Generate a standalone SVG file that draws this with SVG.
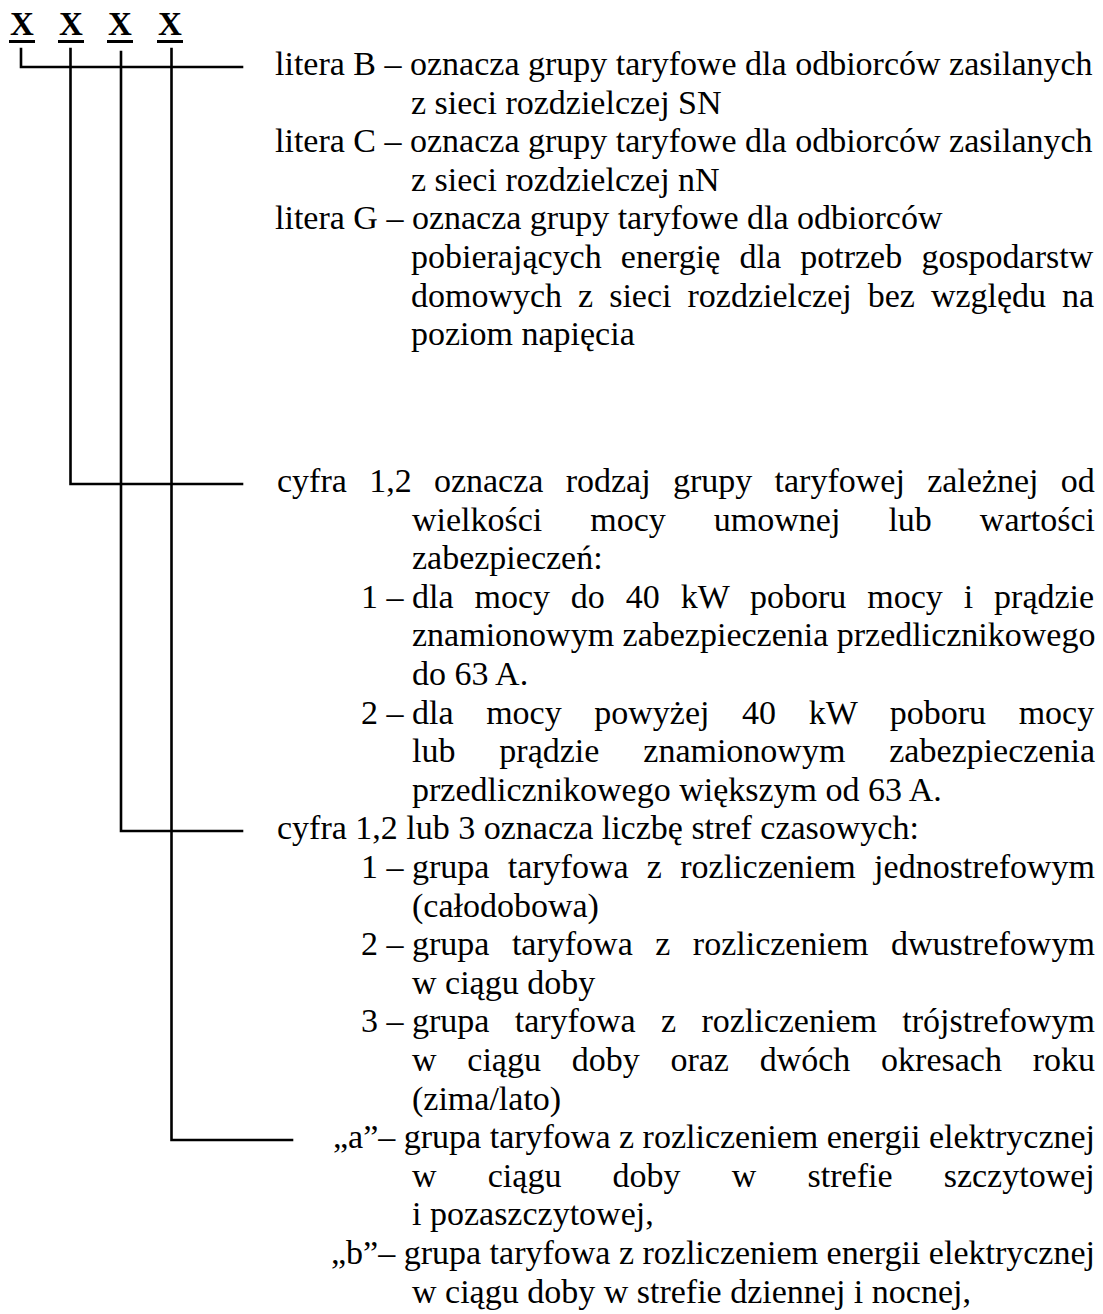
<svg xmlns="http://www.w3.org/2000/svg" width="1103" height="1314" viewBox="0 0 1103 1314">
<style>
text{font-family:"Liberation Serif","Times New Roman",serif;font-size:34px;fill:#000}
.x{font-weight:bold;font-size:33px}
.c{stroke:#000;stroke-width:2.6;fill:none;stroke-linecap:square}
</style>
<rect width="1103" height="1314" fill="#fff"/>
<g id="code">
<text class="x" x="22" y="35" text-anchor="middle">X</text>
<text class="x" x="71" y="35" text-anchor="middle">X</text>
<text class="x" x="120" y="35" text-anchor="middle">X</text>
<text class="x" x="170" y="35" text-anchor="middle">X</text>
<rect x="9" y="40" width="26" height="3"/>
<rect x="58" y="40" width="26" height="3"/>
<rect x="107" y="40" width="26" height="3"/>
<rect x="157" y="40" width="26" height="3"/>
</g>
<g id="connectors">
<path class="c" d="M21,49 V67 H242"/>
<path class="c" d="M70.5,49 V484 H242"/>
<path class="c" d="M121,52 V831 H242"/>
<path class="c" d="M171.5,49 V1140 H292"/>
</g>
<g id="desc-letter">
<text x="275" y="75">litera B – oznacza grupy taryfowe dla odbiorców zasilanych</text>
<text x="411" y="113.6">z sieci rozdzielczej SN</text>
<text x="275" y="152.2">litera C – oznacza grupy taryfowe dla odbiorców zasilanych</text>
<text x="411" y="190.8">z sieci rozdzielczej nN</text>
<text x="275" y="229.4">litera G – oznacza grupy taryfowe dla odbiorców</text>
<text x="411" y="268" style="word-spacing:10.7px">pobierających energię dla potrzeb gospodarstw</text>
<text x="411" y="306.6" style="word-spacing:7.5px">domowych z sieci rozdzielczej bez względu na</text>
<text x="411" y="345.2">poziom napięcia</text>
</g>
<g id="desc-power">
<text x="277" y="492" style="word-spacing:13.8px">cyfra 1,2 oznacza rodzaj grupy taryfowej zależnej od</text>
<text x="412" y="530.6" style="word-spacing:39.5px">wielkości mocy umownej lub wartości</text>
<text x="412" y="569.2">zabezpieczeń:</text>
<text x="361" y="607.8">1 –</text>
<text x="412" y="607.8" style="word-spacing:12.4px">dla mocy do 40 kW poboru mocy i prądzie</text>
<text x="412" y="646.4">znamionowym zabezpieczenia przedlicznikowego</text>
<text x="412" y="685">do 63 A.</text>
<text x="361" y="723.6">2 –</text>
<text x="412" y="723.6" style="word-spacing:24.1px">dla mocy powyżej 40 kW poboru mocy</text>
<text x="412" y="762.2" style="word-spacing:35.4px">lub prądzie znamionowym zabezpieczenia</text>
<text x="412" y="800.8">przedlicznikowego większym od 63 A.</text>
</g>
<g id="desc-zones">
<text x="277" y="839.4">cyfra 1,2 lub 3 oznacza liczbę stref czasowych:</text>
<text x="361" y="878">1 –</text>
<text x="412" y="878" style="word-spacing:9.8px">grupa taryfowa z rozliczeniem jednostrefowym</text>
<text x="412" y="916.6">(całodobowa)</text>
<text x="361" y="955.2">2 –</text>
<text x="412" y="955.2" style="word-spacing:14px">grupa taryfowa z rozliczeniem dwustrefowym</text>
<text x="412" y="993.8">w ciągu doby</text>
<text x="361" y="1032.4">3 –</text>
<text x="412" y="1032.4" style="word-spacing:16.85px">grupa taryfowa z rozliczeniem trójstrefowym</text>
<text x="412" y="1071" style="word-spacing:22.25px">w ciągu doby oraz dwóch okresach roku</text>
<text x="412" y="1109.6">(zima/lato)</text>
</g>
<g id="desc-suffix">
<text x="333" y="1148.2">„a”– grupa taryfowa z rozliczeniem energii elektrycznej</text>
<text x="412" y="1186.8" style="word-spacing:42.7px">w ciągu doby w strefie szczytowej</text>
<text x="412" y="1225.4">i pozaszczytowej,</text>
<text x="331" y="1264">„b”– grupa taryfowa z rozliczeniem energii elektrycznej</text>
<text x="412" y="1302.6">w ciągu doby w strefie dziennej i nocnej,</text>
</g>
</svg>
